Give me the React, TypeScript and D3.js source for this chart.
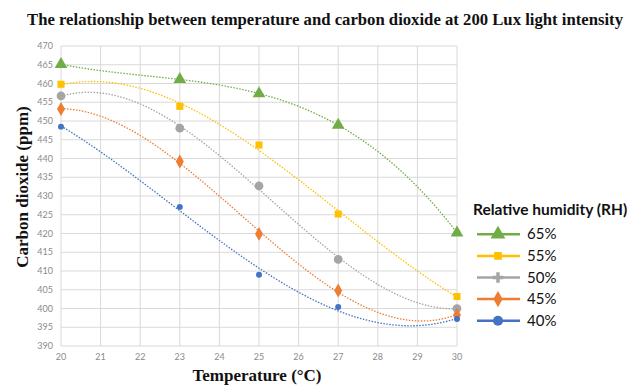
import React from "react";
import * as d3 from "d3";

const temperatures = [20, 23, 25, 27, 30];
const rh65 = [465.1, 461.1, 457.3, 448.9, 420.2];
const rh55 = [459.8, 453.9, 443.6, 425.2, 403.2];
const rh50 = [456.7, 448.1, 432.7, 413.1, 400.0];
const rh45 = [453.2, 439.2, 419.9, 404.8, 398.3];
const rh40 = [448.5, 427.1, 409.0, 400.4, 397.2];
const seriesNames = ["65%", "55%", "50%", "45%", "40%"];
const seriesValues = [rh65, rh55, rh50, rh45, rh40];
const seriesColors = ["#70AD47", "#FFC000", "#A5A5A5", "#ED7D31", "#4472C4"];
const plotSymbols = [d3.symbolTriangle, d3.symbolSquare, d3.symbolCircle, d3.symbolDiamond, d3.symbolCircle];
const legendSymbols = [d3.symbolTriangle, d3.symbolSquare, d3.symbolCross, d3.symbolDiamond, d3.symbolCircle];
const plotSymbolSizes = [70, 50, 60, 55, 28];
const legendSymbolSizes = [95, 60, 60, 75, 80];
const xTicks = d3.range(20, 31, 1);
const yTicks = d3.range(390, 471, 5);

// least-squares cubic polynomial (like an Excel order-3 trendline)
function cubicFit(xs: number[], ys: number[]) {
  const n = 4;
  const c0 = 25;
  const A: number[][] = [];
  for (let i = 0; i < n; i++) {
    const row: number[] = [];
    for (let j = 0; j < n; j++) {
      row.push(d3.sum(xs, (x) => Math.pow(x - c0, i + j)));
    }
    row.push(d3.sum(xs, (x, k) => ys[k] * Math.pow(x - c0, i)));
    A.push(row);
  }
  for (let i = 0; i < n; i++) {
    let p = i;
    for (let r = i + 1; r < n; r++) if (Math.abs(A[r][i]) > Math.abs(A[p][i])) p = r;
    [A[i], A[p]] = [A[p], A[i]];
    for (let r = 0; r < n; r++) {
      if (r === i) continue;
      const f = A[r][i] / A[i][i];
      for (let c = i; c <= n; c++) A[r][c] -= f * A[i][c];
    }
  }
  const coef = A.map((row, i) => row[n] / row[i]);
  return (x: number) => {
    const t = x - c0;
    return coef[0] + coef[1] * t + coef[2] * t * t + coef[3] * t * t * t;
  };
}

export default function App() {
  const W = 641, H = 386;
  const left = 61, right = 457, top = 46, bottom = 346;
  const x = d3.scaleLinear().domain([20, 30]).range([left, right]);
  const y = d3.scaleLinear().domain([390, 470]).range([bottom, top]);
  const line = d3.line<[number, number]>().x((d) => x(d[0])).y((d) => y(d[1]));
  const sans = "Lato, 'Open Sans', sans-serif";
  const serif = "'Liberation Serif', 'Times New Roman', serif";

  return (
    <svg width={W} height={H} style={{ position: "absolute", left: 0, top: 0, background: "#fff" }}>
      <text x={325} y={25} textAnchor="middle" fontFamily={serif} fontWeight="bold" fontSize={16.7} fill="#111">
        The relationship between temperature and carbon dioxide at 200 Lux light intensity
      </text>
      {/* grid */}
      <g stroke="#d9d9d9" strokeWidth={1}>
        {yTicks.map((t) => (
          <line key={"h" + t} x1={left} x2={right} y1={y(t)} y2={y(t)} />
        ))}
        {xTicks.map((t) => (
          <line key={"v" + t} x1={x(t)} x2={x(t)} y1={top} y2={bottom} />
        ))}
      </g>
      <g fontFamily={sans} fontSize={9} fill="#8a8a8a">
        {yTicks.map((t) => (
          <text key={"yl" + t} x={53} y={y(t) + 3} textAnchor="end">{t}</text>
        ))}
        {xTicks.map((t) => (
          <text key={"xl" + t} x={x(t)} y={360} textAnchor="middle">{t}</text>
        ))}
      </g>
      {/* trendlines */}
      {seriesValues.map((vals, si) => {
        const f = cubicFit(temperatures, vals);
        const pts: [number, number][] = d3.range(20, 30.001, 0.05).map((t) => [t, f(t)]);
        return (
          <path key={"tl" + si} d={line(pts) || ""} fill="none" stroke={seriesColors[si]} strokeWidth={1.3} strokeDasharray="1.5 1.5" />
        );
      })}
      {/* markers */}
      {seriesValues.map((vals, si) => (
        <g key={"m" + si} fill={seriesColors[si]}>
          {vals.map((v, i) => (
            <path key={i} transform={`translate(${x(temperatures[i])},${y(v)})`} d={d3.symbol().type(plotSymbols[si]).size(plotSymbolSizes[si])() || ""} />
          ))}
        </g>
      ))}
      <text transform={`translate(28,187) rotate(-90)`} textAnchor="middle" fontFamily={serif} fontWeight="bold" fontSize={17} fill="#111">
        Carbon dioxide (ppm)
      </text>
      <text x={257} y={381} textAnchor="middle" fontFamily={serif} fontWeight="bold" fontSize={17} fill="#111">
        Temperature (°C)
      </text>
      {/* legend */}
      <text x={473} y={215} fontFamily={sans} fontWeight="bold" fontSize={15.5} fill="#111">Relative humidity (RH)</text>
      {seriesNames.map((name, si) => {
        const ly = 234.3 + si * 21.6;
        return (
          <g key={"lg" + si}>
            <line x1={477} x2={520} y1={ly} y2={ly} stroke={seriesColors[si]} strokeWidth={2.5} />
            <path transform={`translate(498,${ly})`} fill={seriesColors[si]} d={d3.symbol().type(legendSymbols[si]).size(legendSymbolSizes[si])() || ""} />
            <text x={527} y={ly + 5} fontFamily={sans} fontSize={15} fill="#111">{name}</text>
          </g>
        );
      })}
    </svg>
  );
}
